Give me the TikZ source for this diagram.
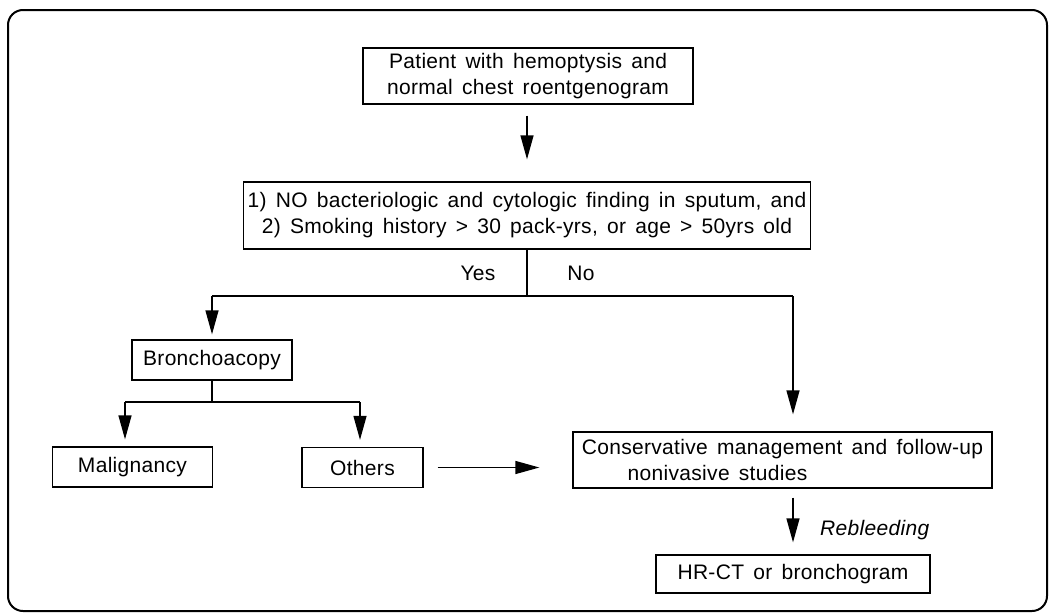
\documentclass[tikz,border=0pt]{standalone}
\usepackage{fontspec}
\setmainfont{Liberation Sans}[LetterSpace=1.5,WordSpace=1.5]
\usetikzlibrary{arrows.meta}
\begin{document}
\begin{tikzpicture}[x=1pt,y=-1pt,
  every node/.style={font=\fontsize{21}{26}\selectfont},
  box/.style={draw, line width=1.3pt, inner sep=0pt, align=center},
  conn/.style={line width=1.3pt},
  arr/.style={conn, -{Triangle[length=24pt,width=13pt]}},
  lbl/.style={inner sep=0pt}]
\useasboundingbox (0,0) rectangle (1051,613);
\draw[line width=2pt, rounded corners=15pt] (8,10) rectangle (1047,611);

\node[box, minimum width=330pt, minimum height=56pt] (b1) at (528,76)
  {Patient with hemoptysis and\\normal chest roentgenogram};
\node[box, minimum width=567pt, minimum height=67pt] (b2) at (527,215.5)
  {1) NO bacteriologic and cytologic finding in sputum, and\\2) Smoking history \textgreater{} 30 pack-yrs, or age \textgreater{} 50yrs old};
\node[box, minimum width=160pt, minimum height=40pt] (bron) at (212,360) {Bronchoacopy};
\node[box, minimum width=160pt, minimum height=40pt] (malig) at (132.5,467) {Malignancy};
\node[box, minimum width=121pt, minimum height=40pt] (oth) at (362.5,467.5) {Others};
\node[box, minimum width=419pt, minimum height=56pt] (cons) at (782.5,460)
  {Conservative management and follow-up\\\hspace*{-130pt}nonivasive studies};
\node[box, minimum width=274pt, minimum height=38pt] (hr) at (793,574) {HR-CT or bronchogram};

\node[lbl] (yes) at (478,273) {Yes};
\node[lbl] (no) at (581,273) {No};
\node[lbl, anchor=west, font=\fontsize{21}{26}\selectfont\itshape] (reb) at (820,530) {Rebleeding};

\coordinate (jL) at (212,296);
\coordinate (jR) at (793,296);
\coordinate (kL) at (125,402);
\coordinate (kR) at (360,402);

\draw[arr, shorten <=11pt, shorten >=22pt] (b2.north |- b1.south) -- (b2.north);
\draw[conn] (b2.south) -- (b2.south |- jL);
\draw[conn] (jL) -- (jR);
\draw[arr, shorten >=5pt] (jL) -- (jL |- bron.north);
\draw[arr, shorten >=17pt] (jR) -- (jR |- cons.north);
\draw[conn] (bron.south) -- (bron.south |- kL);
\draw[conn] (kL) -- (kR);
\draw[arr, shorten >=7pt] (kL) -- (kL |- malig.north);
\draw[arr, shorten >=7pt] (kR) -- (kR |- oth.north);
\draw[arr, shorten <=14pt, shorten >=33pt] (oth.east) -- (oth.east -| cons.west);
\draw[arr, shorten <=9pt, shorten >=12pt] (hr.north |- cons.south) -- (hr.north);
\end{tikzpicture}
\end{document}
